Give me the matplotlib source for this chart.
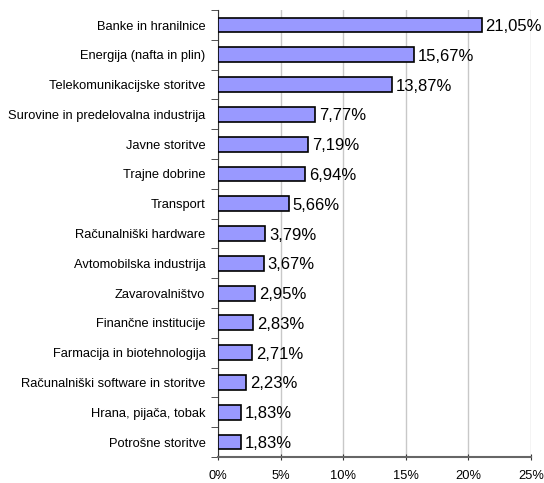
import matplotlib
matplotlib.use('Agg')
import matplotlib.pyplot as plt
import numpy as np

plt.rcParams['font.family'] = ['Liberation Sans', 'DejaVu Sans']

categories = ['Banke in hranilnice', 'Energija (nafta in plin)', 'Telekomunikacijske storitve',
              'Surovine in predelovalna industrija', 'Javne storitve', 'Trajne dobrine',
              'Transport', 'Računalniški hardware', 'Avtomobilska industrija',
              'Zavarovalništvo', 'Finančne institucije', 'Farmacija in biotehnologija',
              'Računalniški software in storitve', 'Hrana, pijača, tobak', 'Potrošne storitve']
values = [21.05, 15.67, 13.87, 7.77, 7.19, 6.94, 5.66, 3.79, 3.67, 2.95, 2.83, 2.71, 2.23, 1.83, 1.83]
xticks = [0, 5, 10, 15, 20, 25]

fig = plt.figure(figsize=(5.44, 4.83), dpi=100)
ax = fig.add_axes([0.4007, 0.054, 0.5754, 0.925])

n = len(categories)
ypos = np.arange(n)[::-1]
ax.barh(ypos, values, height=0.5, color='#9999ff', edgecolor='black', linewidth=1.2, zorder=3)

for y, v in zip(ypos, values):
    ax.text(v + 0.3, y - 0.05, f'{v:.2f}%'.replace('.', ','), va='center', ha='left',
            fontsize=12, zorder=4)

ax.set_xlim(0, 25)
ax.set_ylim(-0.5, n - 0.5)
ax.set_xticks(xticks)
ax.set_xticklabels([f'{t}%' for t in xticks], fontsize=9.3)
ax.set_yticks(ypos)
ax.set_yticklabels(categories, fontsize=9.3)
ax.tick_params(axis='y', length=0, pad=9)
ax.set_yticks(np.arange(n + 1) - 0.5, minor=True)
ax.tick_params(axis='y', which='minor', length=5, color='#333333')
ax.tick_params(axis='x', length=5, color='#333333', direction='inout', pad=7)
ax.grid(axis='x', color='#c8c8c8', linewidth=1, zorder=0)

for s in ['top', 'right']:
    ax.spines[s].set_visible(False)
ax.spines['left'].set_color('#333333')
ax.spines['bottom'].set_color('#666666')
ax.spines['bottom'].set_linewidth(1.5)

fig.savefig('out.png', dpi=100)
